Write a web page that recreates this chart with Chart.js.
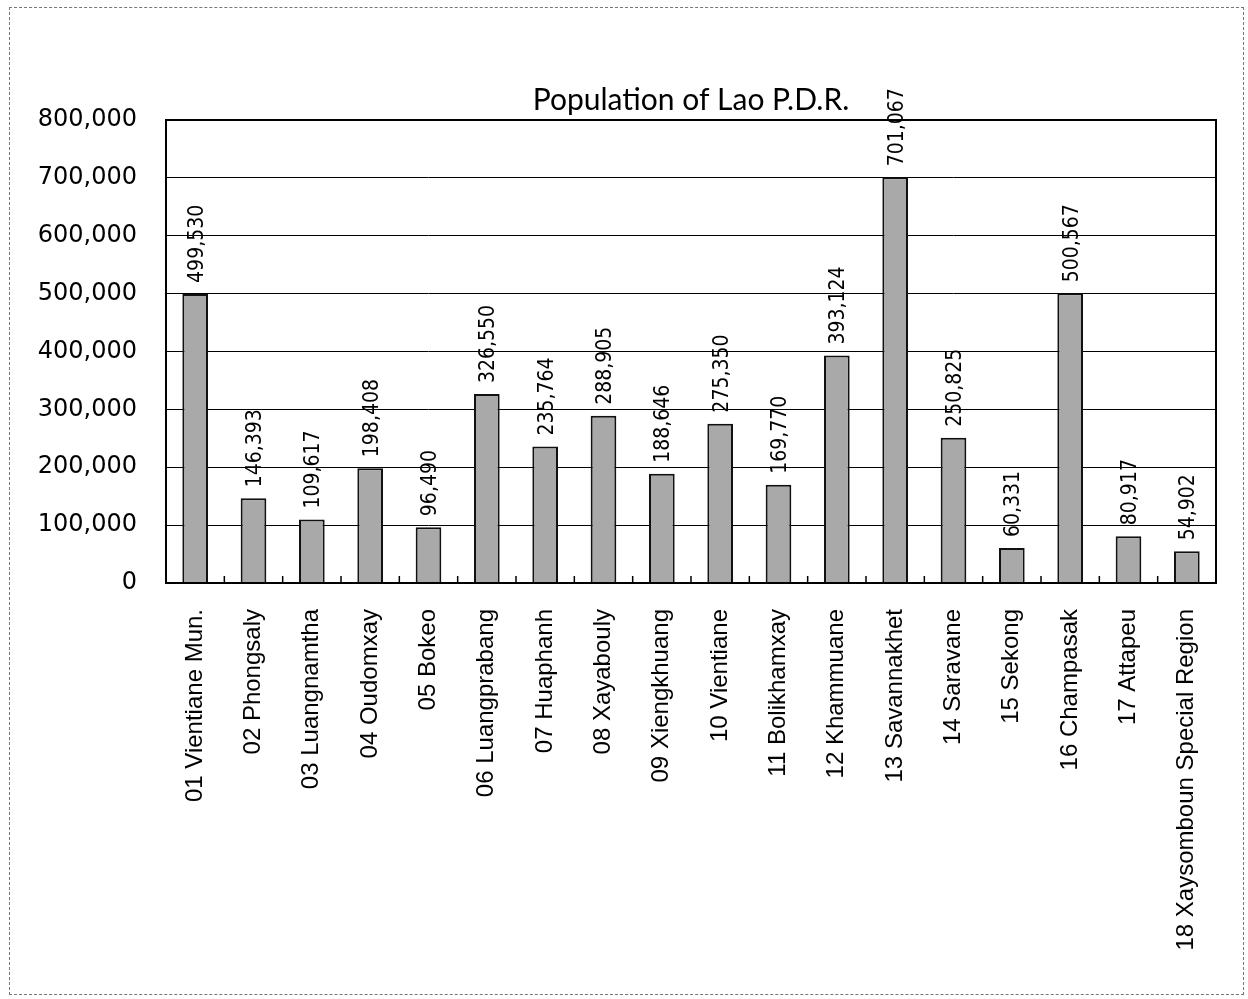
<!DOCTYPE html>
<html>
<head>
<meta charset="utf-8">
<script src="https://cdn.jsdelivr.net/npm/chart.js@4/dist/chart.umd.min.js"></script>
<style>
  html, body { margin: 0; padding: 0; background: #fff; }
  #wrap { position: relative; width: 1248px; height: 999px; }
  #frame { position: absolute; left: 9px; top: 7px; width: 1235px; height: 988px; border: 1px dashed #777; box-sizing: border-box; pointer-events: none; }
</style>
</head>
<body>
<div id="wrap">
  <canvas id="c" width="1248" height="999"></canvas>
  <div id="frame"></div>
</div>
<script>
const categories = ["01 Vientiane Mun.", "02 Phongsaly", "03 Luangnamtha", "04 Oudomxay", "05 Bokeo", "06 Luangprabang", "07 Huaphanh", "08 Xayabouly", "09 Xiengkhuang", "10 Vientiane", "11 Bolikhamxay", "12 Khammuane", "13 Savannakhet", "14 Saravane", "15 Sekong", "16 Champasak", "17 Attapeu", "18 Xaysomboun Special Region"];
const populations = [499530, 146393, 109617, 198408, 96490, 326550, 235764, 288905, 188646, 275350, 169770, 393124, 701067, 250825, 60331, 500567, 80917, 54902];
const yTicks = [0, 100000, 200000, 300000, 400000, 500000, 600000, 700000, 800000];
const chartTitle = "Population of Lao P.D.R.";

const fmt = v => Number(v).toLocaleString('en-US');

const valueLabels = {
  id: 'valueLabels',
  afterDatasetsDraw(chart) {
    const ctx = chart.ctx;
    const meta = chart.getDatasetMeta(0);
    ctx.save();
    ctx.fillStyle = '#000';
    ctx.font = '21px "DejaVu Sans Condensed", "Liberation Sans", sans-serif';
    ctx.textAlign = 'left';
    ctx.textBaseline = 'middle';
    meta.data.forEach((bar, i) => {
      ctx.save();
      ctx.translate(bar.x + 2, bar.y - 11);
      ctx.rotate(-Math.PI / 2);
      ctx.fillText(fmt(populations[i]), 0, 0);
      ctx.restore();
    });
    ctx.restore();
  }
};

const frameAndTicks = {
  id: 'frameAndTicks',
  afterDraw(chart) {
    const { ctx, chartArea: a, scales } = chart;
    ctx.save();
    ctx.strokeStyle = '#000';
    ctx.lineWidth = 2;
    ctx.strokeRect(a.left, a.top, a.right - a.left, a.bottom - a.top);
    ctx.lineWidth = 1.5;
    const x = scales.x;
    for (let i = 1; i < categories.length; i++) {
      const px = (x.getPixelForValue(i - 1) + x.getPixelForValue(i)) / 2;
      ctx.beginPath();
      ctx.moveTo(px, a.bottom);
      ctx.lineTo(px, a.bottom - 7);
      ctx.stroke();
    }
    ctx.restore();
  }
};

new Chart(document.getElementById('c'), {
  type: 'bar',
  data: {
    labels: categories,
    datasets: [{
      data: populations,
      backgroundColor: '#a9a9a9',
      borderColor: '#111',
      borderWidth: 2,
      barPercentage: 0.44,
      categoryPercentage: 1.0
    }]
  },
  options: {
    responsive: false,
    animation: false,
    layout: { padding: { left: 0, right: 32, top: 0, bottom: 0 } },
    plugins: {
      legend: { display: false },
      tooltip: { enabled: false },
      title: {
        display: true,
        text: chartTitle,
        fullSize: false,
        color: '#000',
        font: { family: 'Lato, "Open Sans", sans-serif', size: 30, weight: 'normal', lineHeight: 1.2 },
        padding: { top: 82, bottom: 2 }
      }
    },
    scales: {
      x: {
        grid: { display: false },
        border: { display: false },
        ticks: {
          color: '#000',
          autoSkip: false,
          minRotation: 90,
          maxRotation: 90,
          padding: 18,
          font: { family: '"Liberation Sans", Arial, sans-serif', size: 24 }
        },
        afterFit(scale) { scale.height = 416; }
      },
      y: {
        min: 0,
        max: 800000,
        afterBuildTicks(scale) { scale.ticks = yTicks.map(v => ({ value: v })); },
        grid: { color: '#000', lineWidth: 1, drawTicks: false },
        border: { display: false },
        ticks: {
          color: '#000',
          padding: 29,
          callback: v => fmt(v),
          font: { family: '"DejaVu Sans", Verdana, sans-serif', size: 24 }
        },
        afterFit(scale) { scale.width = 166; }
      }
    }
  },
  plugins: [valueLabels, frameAndTicks]
});
</script>
</body>
</html>
